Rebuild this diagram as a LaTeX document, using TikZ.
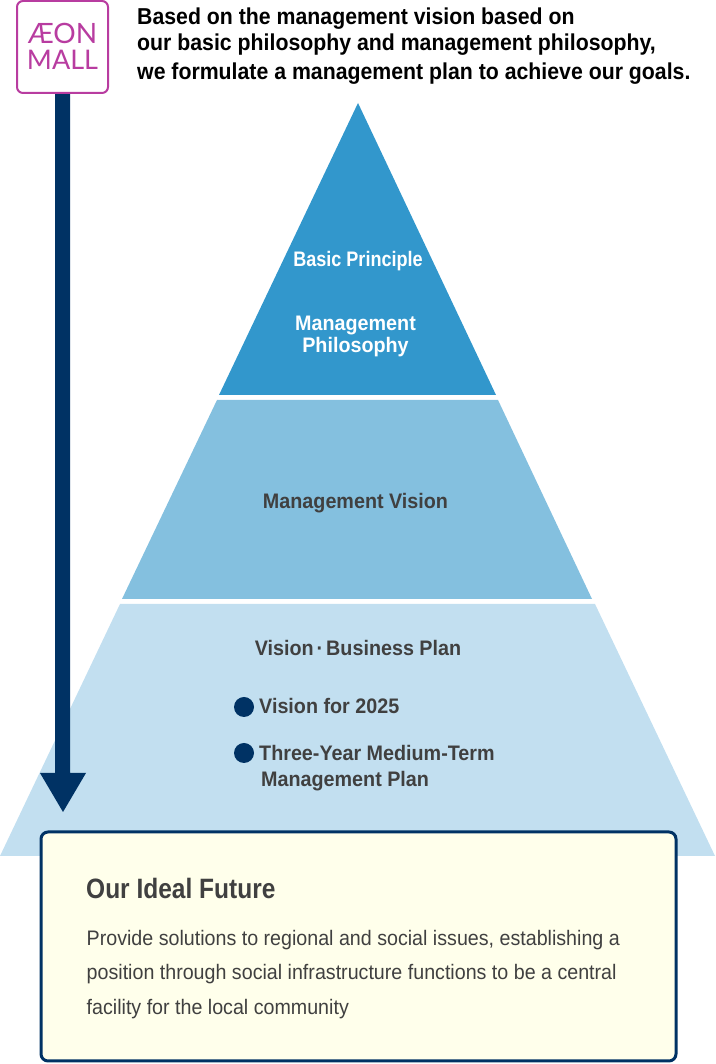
\documentclass[tikz,border=0pt]{standalone}
\usepackage{fontspec}
\setmainfont{Liberation Sans}
\newfontfamily\logofont{Lato}
\newfontfamily\headfont[FakeStretch=0.925]{Liberation Sans}
\newfontfamily\labelfont[FakeStretch=0.94]{Liberation Sans}
\newfontfamily\bodyfont[FakeStretch=0.936]{Liberation Sans}
\newfontfamily\principlefont[FakeStretch=0.86]{Liberation Sans}
\newfontfamily\futurefont[FakeStretch=0.875]{Liberation Sans}
\usepackage{tkz-euclide}
\definecolor{NavyClr}{RGB}{0,50,100}
\definecolor{TopClr}{RGB}{50,151,204}
\definecolor{MidClr}{RGB}{132,192,223}
\definecolor{LowClr}{RGB}{194,223,240}
\definecolor{BoxClr}{RGB}{255,255,235}
\definecolor{LogoClr}{RGB}{184,60,160}
\definecolor{TextClr}{RGB}{64,64,64}
\tikzset{
  headtext/.style={anchor=base west,inner sep=0pt,font=\headfont\bfseries\fontsize{23}{26}\selectfont},
  whitetext/.style={inner sep=0pt,align=center,text=white,font=\labelfont\bfseries\fontsize{21}{22}\selectfont},
  graytext/.style={inner sep=0pt,text=TextClr,font=\labelfont\bfseries\fontsize{21}{22}\selectfont},
  bodytext/.style={anchor=base west,inner sep=0pt,text=TextClr,font=\bodyfont\fontsize{21}{24}\selectfont},
  bulletdot/.style={circle,fill=NavyClr,minimum size=20pt,inner sep=0pt},
}
\begin{document}
\begin{tikzpicture}[x=1pt,y=1pt]
\useasboundingbox (0,0) rectangle (715,1064);

\tkzDefPoints{358/961/A,219/669/B,496/669/C}
\tkzDefPoints{217/664/D,498/664/E,592/465/F,122/465/G}
\tkzDefPoints{120/460/H,595/460/I,715/208/J,0/208/K}
\tkzDefPoints{55/971/P,70/971/Q,70/291/R,86/291/S,63/252/T,40/291/U,55/291/V}

\tkzFillPolygon[fill=TopClr](A,B,C)
\tkzFillPolygon[fill=MidClr](D,E,F,G)
\tkzFillPolygon[fill=LowClr](H,I,J,K)
\tkzFillPolygon[fill=NavyClr](P,Q,R,S,T,U,V)

% logo
\draw[line width=2pt,color=LogoClr,fill=white,rounded corners=6pt] (17,971) rectangle (108,1063);
\node[inner sep=0pt,text=LogoClr,font=\logofont\fontsize{28}{28}\selectfont] (aeon) at (62.5,1031) {ÆON};
\node[inner sep=0pt,text=LogoClr,font=\logofont\fontsize{27}{27}\selectfont] (mall) at (62.5,1004) {MALL};

\node[headtext] (line1) at (137,1039) {Based on the management vision based on};
\node[headtext] (line2) at (137,1013) {our basic philosophy and management philosophy,};
\node[headtext] (line3) at (137,984) {we formulate a management plan to achieve our goals.};

\node[whitetext,font=\principlefont\bfseries\fontsize{21}{22}\selectfont] (principle) at (358,803) {Basic Principle};
\node[whitetext] (philosophy) at (355.5,728) {Management\\Philosophy};
\node[graytext] (vision) at (355.5,561) {Management Vision};
\node[graytext] (plan) at (358,416) {Vision\kern-2.5pt{} · \kern-2.5pt{}Business Plan};

\node[bulletdot] (dot1) at (244,357) {};
\node[graytext,anchor=west] (item1) at (259,358) {Vision for 2025};
\node[bulletdot] (dot2) at (244,311) {};
\node[graytext,anchor=west] (item2) at (259,311) {Three-Year Medium-Term};
\node[graytext,anchor=west] (item3) at (261,283) {Management Plan};

% ideal future box
\draw[line width=3pt,color=NavyClr,fill=BoxClr,rounded corners=7pt] (41,3) rectangle (676,232);
\node[anchor=west,inner sep=0pt,text=TextClr,font=\futurefont\bfseries\fontsize{28}{30}\selectfont] (future) at (86,176) {Our Ideal Future};
\node[bodytext] (body1) at (86.5,118) {Provide solutions to regional and social issues, establishing a};
\node[bodytext] (body2) at (86.5,84) {position through social infrastructure functions to be a central};
\node[bodytext] (body3) at (86.5,49) {facility for the local community};
\end{tikzpicture}
\end{document}
